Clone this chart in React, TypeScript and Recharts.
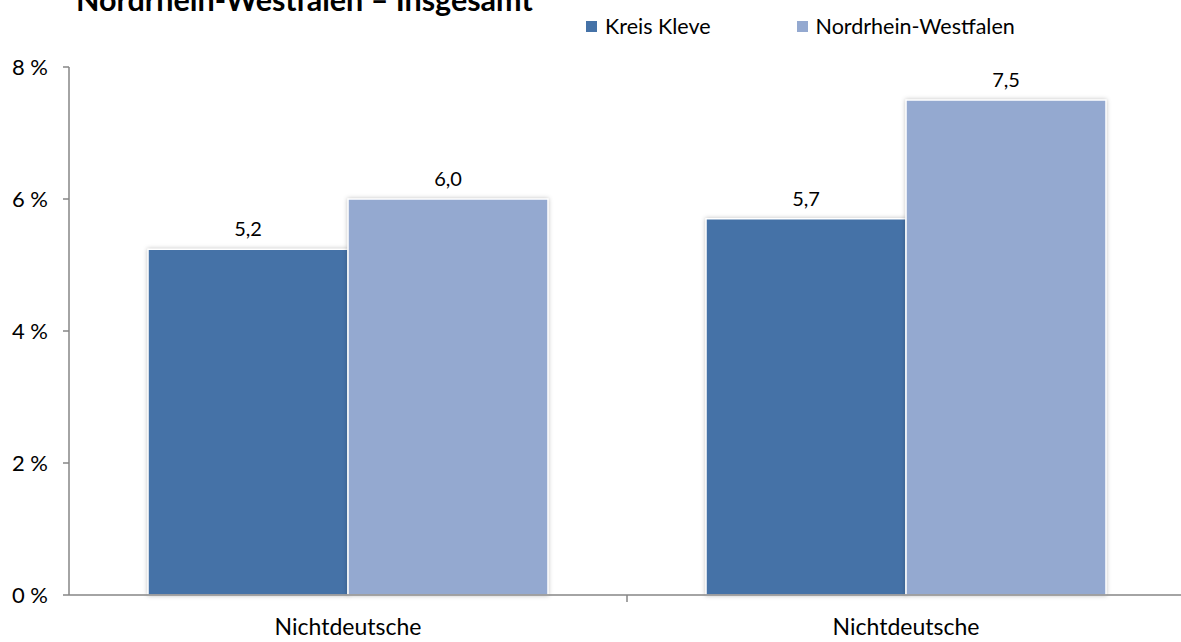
import React from "react";
import { BarChart, Bar, XAxis, YAxis, LabelList, Rectangle } from "recharts";

const categories = ["Nichtdeutsche", "Nichtdeutsche"];
const kreisKleve = [5.24, 5.7];
const nrw = [6.0, 7.5];
const yTicks = [0, 2, 4, 6, 8];

const seriesNames = { kleve: "Kreis Kleve", nrw: "Nordrhein-Westfalen" };
const title = "Nordrhein-Westfalen – Insgesamt";

const data = categories.map((c, i) => ({
  id: i,
  name: c,
  kleve: kreisKleve[i],
  nrw: nrw[i],
}));

const FONT = "Lato, 'Open Sans', sans-serif";
const DARK = "#4572A7";
const LIGHT = "#94A9D0";
const AXIS = "#868686";

const ShadowBar = (props: any) => (
  <Rectangle
    {...props}
    stroke="#ffffff"
    strokeWidth={1.5}
    style={{ filter: "drop-shadow(0px 0px 2px rgba(0,0,0,0.25))" }}
  />
);

// category label, plus the divider tick between the two groups
const XTick = (props: any) => {
  const { x, y, payload, index } = props;
  const halfCat = 279;
  return (
    <g>
      {index === 0 && (
        <line
          x1={x + halfCat}
          x2={x + halfCat}
          y1={y - 8}
          y2={y - 1}
          stroke={AXIS}
          strokeWidth={1.5}
        />
      )}
      <text
        x={x}
        y={y + 32}
        textAnchor="middle"
        fontFamily={FONT}
        fontSize={23}
        fill="#000"
      >
        {categories[payload.value]}
      </text>
    </g>
  );
};

const Swatch = ({ color }: { color: string }) => (
  <span
    style={{
      width: 11,
      height: 11,
      background: color,
      display: "inline-block",
      marginRight: 8,
    }}
  />
);

const fmt = (v: any) => Number(v).toFixed(1).replace(".", ",");

export default function App() {
  return (
    <div
      style={{
        position: "absolute",
        left: 0,
        top: 0,
        width: 1181,
        height: 642,
        overflow: "hidden",
        background: "#fff",
      }}
    >
      <div
        style={{
          position: "absolute",
          left: 76,
          top: -19,
          fontFamily: FONT,
          fontWeight: 700,
          fontSize: 30.5,
          lineHeight: "36px",
          color: "#000",
          whiteSpace: "nowrap",
        }}
      >
        {title}
      </div>
      <div
        style={{
          position: "absolute",
          left: 586,
          top: 12,
          display: "flex",
          alignItems: "center",
          fontFamily: FONT,
          fontSize: 21.5,
          lineHeight: "28px",
          color: "#000",
          whiteSpace: "nowrap",
        }}
      >
        <span style={{ display: "flex", alignItems: "center", marginRight: 86 }}>
          <Swatch color={DARK} />
          {seriesNames.kleve}
        </span>
        <span style={{ display: "flex", alignItems: "center" }}>
          <Swatch color={LIGHT} />
          {seriesNames.nrw}
        </span>
      </div>
      <BarChart
        width={1185}
        height={642}
        data={data}
        margin={{ top: 67, right: 0, bottom: 0, left: 0 }}
        barGap={0}
        barCategoryGap={79}
      >
        <XAxis
          dataKey="id"
          tick={<XTick />}
          tickLine={false}
          axisLine={{ stroke: AXIS, strokeWidth: 1.5 }}
          interval={0}
          height={47}
        />
        <YAxis
          domain={[0, 8]}
          ticks={yTicks}
          width={69}
          tickSize={6}
          tickMargin={15}
          tickFormatter={(v: any) => `${v} %`}
          tick={{ fontFamily: FONT, fontSize: 22, fill: "#000" }}
          tickLine={{ stroke: AXIS, strokeWidth: 1.5 }}
          axisLine={{ stroke: AXIS, strokeWidth: 1.5 }}
        />
        <Bar
          dataKey="kleve"
          name={seriesNames.kleve}
          fill={DARK}
          shape={<ShadowBar />}
          isAnimationActive={false}
        >
          <LabelList
            dataKey="kleve"
            position="top"
            offset={13}
            formatter={fmt}
            style={{ fontFamily: FONT, fontSize: 20, fill: "#000" }}
          />
        </Bar>
        <Bar
          dataKey="nrw"
          name={seriesNames.nrw}
          fill={LIGHT}
          shape={<ShadowBar />}
          isAnimationActive={false}
        >
          <LabelList
            dataKey="nrw"
            position="top"
            offset={13}
            formatter={fmt}
            style={{ fontFamily: FONT, fontSize: 20, fill: "#000" }}
          />
        </Bar>
      </BarChart>
    </div>
  );
}
